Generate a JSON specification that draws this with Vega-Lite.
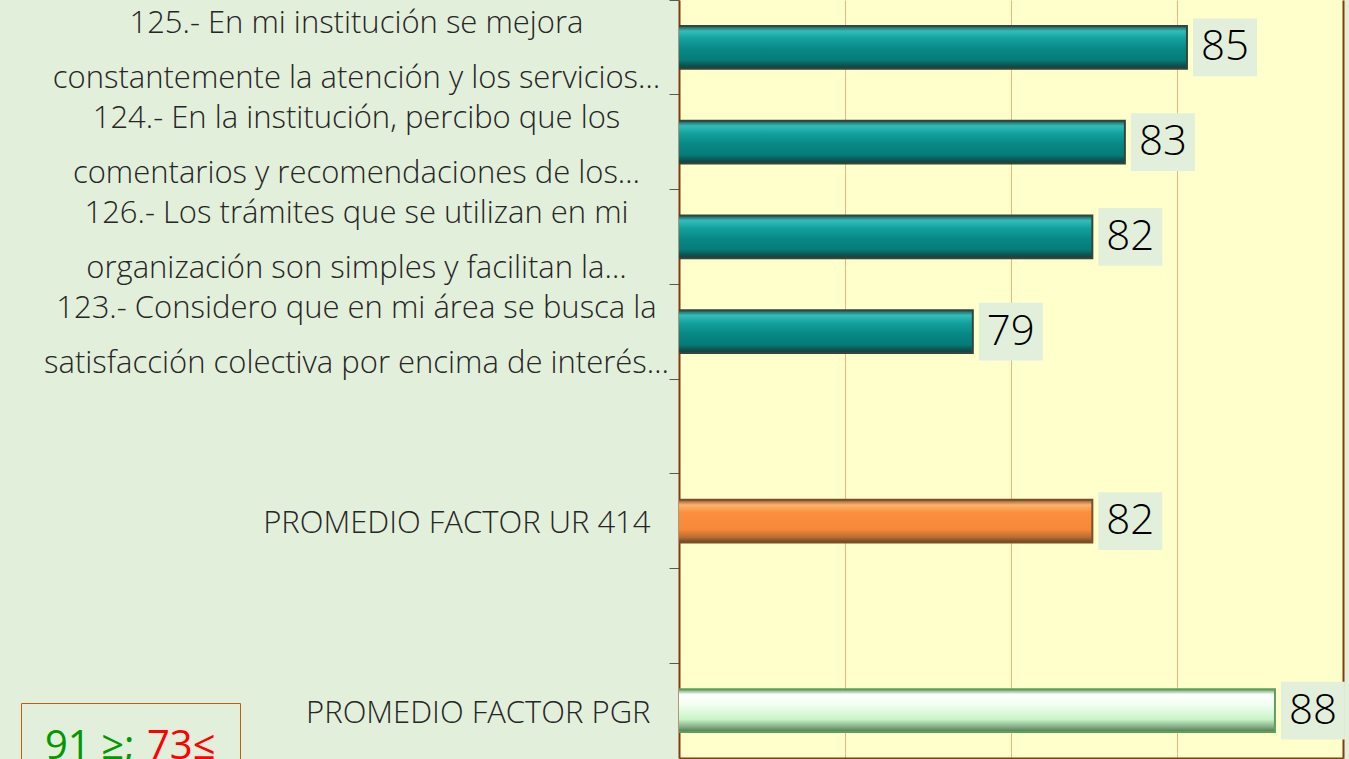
{
  "$schema": "https://vega.github.io/schema/vega-lite/v6.json",
  "width": 664,
  "height": 758,
  "autosize": {"type": "none"},
  "padding": {"left": 679, "top": 0, "right": 6, "bottom": 1},
  "background": "#E2EFDA",
  "config": {
    "view": {"fill": "#FFFFCC", "stroke": null}
  },
  "data": {
    "values": [
      {"cat": "125.- En mi institución se mejora|constantemente la atención y los servicios…", "value": 85.3, "grupo": "reactivo"},
      {"cat": "124.- En la institución, percibo que los|comentarios y recomendaciones de los…", "value": 83.43, "grupo": "reactivo"},
      {"cat": "126.- Los trámites que se utilizan en mi|organización son simples y facilitan la…", "value": 82.45, "grupo": "reactivo"},
      {"cat": "123.- Considero que en mi área se busca la|satisfacción colectiva por encima de interés…", "value": 78.85, "grupo": "reactivo"},
      {"cat": "PROMEDIO FACTOR UR 414", "value": 82.45, "grupo": "ur"},
      {"cat": "PROMEDIO FACTOR PGR", "value": 87.95, "grupo": "pgr"}
    ]
  },
  "resolve": {"axis": {"y": "independent"}},
  "layer": [
    {
      "transform": [{"filter": "datum.grupo === 'reactivo'"}],
      "mark": {
        "type": "bar",
        "height": {"band": 0.45},
        "clip": true,
        "stroke": "#34463c",
        "strokeWidth": 2,
        "color": {
          "gradient": "linear", "x1": 0, "y1": 0, "x2": 0, "y2": 1,
          "stops": [
            {"offset": 0, "color": "#1f5a56"},
            {"offset": 0.12, "color": "#33bdb9"},
            {"offset": 0.3, "color": "#12a19e"},
            {"offset": 0.55, "color": "#078885"},
            {"offset": 0.8, "color": "#067c79"},
            {"offset": 0.92, "color": "#0b5451"},
            {"offset": 1, "color": "#1d3b37"}
          ]
        }
      },
      "encoding": {
        "y": {
          "field": "cat",
          "type": "nominal",
          "sort": null,
          "scale": {
            "domain": [
              "125.- En mi institución se mejora|constantemente la atención y los servicios…",
              "124.- En la institución, percibo que los|comentarios y recomendaciones de los…",
              "126.- Los trámites que se utilizan en mi|organización son simples y facilitan la…",
              "123.- Considero que en mi área se busca la|satisfacción colectiva por encima de interés…",
              " ",
              "PROMEDIO FACTOR UR 414",
              "  ",
              "PROMEDIO FACTOR PGR"
            ],
            "paddingInner": 0,
            "paddingOuter": 0
          },
          "axis": {
            "orient": "left",
            "title": null,
            "bandPosition": 0,
            "tickSize": 10,
            "tickColor": "#595959",
            "tickWidth": 1,
            "domainColor": "#843C0C",
            "domainWidth": 2,
            "labelFont": "Open Sans",
            "labelFontSize": 31,
            "labelFontWeight": 300,
            "labelColor": "#262626",
            "labelLineHeight": 55,
            "labelBaseline": "middle",
            "labelLimit": 0,
            "labelOverlap": false,
            "labelExpr": "split(datum.label, '|')",
            "labelAlign": {
              "condition": {"test": "indexof(datum.value, '|') >= 0", "value": "center"},
              "value": "right"
            },
            "labelPadding": {
              "condition": {"test": "indexof(datum.value, '|') >= 0", "value": 313},
              "value": 19
            },
            "labelOffset": {
              "condition": {"test": "indexof(datum.value, '|') >= 0", "value": -23},
              "value": 3
            }
          }
        },
        "x": {
          "field": "value",
          "type": "quantitative",
          "scale": {"domain": [70, 90], "zero": false, "nice": false},
          "axis": {
            "values": [70, 75, 80, 85, 90],
            "labels": false,
            "ticks": false,
            "title": null,
            "grid": true,
            "gridColor": "#F4B183",
            "gridWidth": 1,
            "domainColor": "#843C0C",
            "domainWidth": 2
          }
        }
      }
    },
    {
      "transform": [{"filter": "datum.grupo === 'ur'"}],
      "mark": {
        "type": "bar",
        "height": {"band": 0.45},
        "clip": true,
        "stroke": "#7a4e2a",
        "strokeWidth": 2,
        "color": {
          "gradient": "linear", "x1": 0, "y1": 0, "x2": 0, "y2": 1,
          "stops": [
            {"offset": 0, "color": "#8c5a30"},
            {"offset": 0.12, "color": "#fdb46c"},
            {"offset": 0.3, "color": "#fa8f3e"},
            {"offset": 0.7, "color": "#f7883a"},
            {"offset": 0.88, "color": "#b86c32"},
            {"offset": 1, "color": "#6b4526"}
          ]
        }
      },
      "encoding": {
        "y": {"field": "cat", "type": "nominal", "sort": null, "axis": null},
        "x": {"field": "value", "type": "quantitative"}
      }
    },
    {
      "transform": [{"filter": "datum.grupo === 'pgr'"}],
      "mark": {
        "type": "bar",
        "height": {"band": 0.45},
        "clip": true,
        "stroke": "#5e9e5e",
        "strokeWidth": 2,
        "color": {
          "gradient": "linear", "x1": 0, "y1": 0, "x2": 0, "y2": 1,
          "stops": [
            {"offset": 0, "color": "#5aa65a"},
            {"offset": 0.12, "color": "#ffffff"},
            {"offset": 0.35, "color": "#f2fff2"},
            {"offset": 0.7, "color": "#c9f5c9"},
            {"offset": 0.88, "color": "#84ae84"},
            {"offset": 1, "color": "#4f7a4f"}
          ]
        }
      },
      "encoding": {
        "y": {"field": "cat", "type": "nominal", "sort": null, "axis": null},
        "x": {"field": "value", "type": "quantitative"}
      }
    },
    {
      "mark": {
        "type": "point",
        "filled": true,
        "opacity": 1,
        "fill": "#E2EFDA",
        "strokeWidth": 0,
        "shape": "M-1,-0.906L1,-0.906L1,0.906L-1,0.906Z",
        "size": 4096,
        "xOffset": 38
      },
      "encoding": {
        "y": {"field": "cat", "type": "nominal", "sort": null, "axis": null},
        "x": {"field": "value", "type": "quantitative"}
      }
    },
    {
      "mark": {
        "type": "text",
        "font": "Open Sans",
        "fontSize": 42,
        "fontWeight": 300,
        "color": "#000000",
        "align": "center",
        "baseline": "middle",
        "xOffset": 38
      },
      "encoding": {
        "y": {
          "field": "cat",
          "type": "nominal",
          "sort": null,
          "axis": {
            "orient": "right",
            "title": null,
            "labels": false,
            "ticks": false,
            "domainColor": "#843C0C",
            "domainWidth": 2
          }
        },
        "x": {"field": "value", "type": "quantitative"},
        "text": {"field": "value", "type": "quantitative", "format": ".0f"}
      }
    },
    {
      "mark": {"type": "point", "opacity": 0},
      "encoding": {
        "y": {"field": "cat", "type": "nominal", "sort": null, "axis": null},
        "x": {"field": "value", "type": "quantitative"},
        "shape": {
          "datum": "73≤",
          "legend": {
            "orient": "none",
            "legendX": -658,
            "legendY": 703,
            "title": "91 ≥;",
            "titleOrient": "left",
            "titleColor": "#009900",
            "titleFont": "Open Sans",
            "titleFontSize": 40,
            "titleFontWeight": "normal",
            "titlePadding": 0,
            "labelColor": "#FF0000",
            "labelFont": "Open Sans",
            "labelFontSize": 40,
            "symbolSize": 0,
            "symbolOpacity": 0,
            "symbolStrokeWidth": 0,
            "labelOffset": -28,
            "padding": 24,
            "strokeColor": "#C55A11",
            "fillColor": "#E2EFDA",
            "cornerRadius": 0
          }
        }
      }
    }
  ]
}
